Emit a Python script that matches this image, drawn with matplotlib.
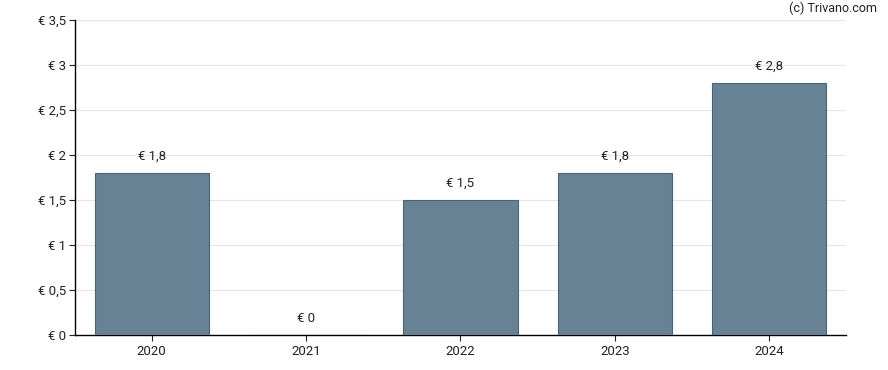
import matplotlib
matplotlib.use("Agg")
import matplotlib.pyplot as plt

plt.rcParams['font.family'] = ['Roboto', 'DejaVu Sans']

# dati
anni = ['2020', '2021', '2022', '2023', '2024']
valori = [1.8, 0.0, 1.5, 1.8, 2.8]
etichette = ['€ 1,8', '€ 0', '€ 1,5', '€ 1,8', '€ 2,8']
y_ticks = [0, 0.5, 1, 1.5, 2, 2.5, 3, 3.5]
y_labels = ['€ 0', '€ 0,5', '€ 1', '€ 1,5', '€ 2', '€ 2,5', '€ 3', '€ 3,5']

fig = plt.figure(figsize=(8.88, 3.70), dpi=100)
ax = fig.add_axes([0.084, 0.0946, 0.869, 0.851])

x = list(range(len(anni)))
ax.bar(x, valori, width=0.74, color='#668294', edgecolor='#4a6378', linewidth=0.8, zorder=3)

for xi, v, lab in zip(x, valori, etichette):
    ax.annotate(lab, xy=(xi, v), xytext=(0, 7.5), textcoords='offset points',
                ha='center', va='bottom', fontsize=9.5, color='#222222')

ax.set_xlim(-0.5, 4.5)
ax.set_ylim(0, 3.5)
ax.set_xticks(x)
ax.set_xticklabels(anni)
ax.set_yticks(y_ticks)
ax.set_yticklabels(y_labels)
ax.tick_params(axis='both', labelsize=9.5, colors='#222222', length=4, width=0.8)
ax.tick_params(axis='x', pad=3.5)
ax.tick_params(axis='y', pad=2)

ax.grid(axis='y', color='#e6e6e6', linewidth=0.8, zorder=0)
ax.spines['top'].set_visible(False)
ax.spines['right'].set_visible(False)
for s in ['left', 'bottom']:
    ax.spines[s].set_color('#000000')
    ax.spines[s].set_linewidth(1)

fig.text(0.988, 0.995, '(c) Trivano.com', ha='right', va='top', fontsize=9, color='#222222')

fig.savefig('out.png', dpi=100)
